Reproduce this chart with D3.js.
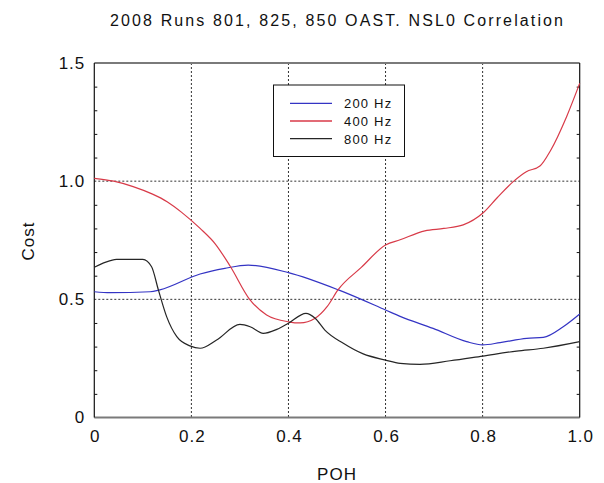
<!DOCTYPE html>
<html>
<head>
<meta charset="utf-8">
<script src="https://cdn.jsdelivr.net/npm/d3@7"></script>
<style>
  html, body { margin: 0; padding: 0; background: #fff; }
  svg { display: block; font-family: "Liberation Sans", Arial, sans-serif; }
</style>
</head>
<body>
<svg id="chart" width="604" height="483"></svg>
<script>
// Cost vs POH for three frequency bands
const seriesNames = ["200 Hz", "400 Hz", "800 Hz"];
const seriesColors = ["#3434c4", "#d83a48", "#262626"];

const poh200 = [0, 0.033, 0.115, 0.135, 0.218, 0.269, 0.317, 0.4, 0.503, 0.6, 0.63, 0.698, 0.767, 0.8, 0.836, 0.891, 0.925, 0.966, 1.0];
const cost200 = [0.532, 0.528, 0.532, 0.54, 0.607, 0.631, 0.645, 0.613, 0.54, 0.455, 0.428, 0.377, 0.321, 0.307, 0.317, 0.335, 0.339, 0.384, 0.438];

const poh400 = [0, 0.04, 0.08, 0.12, 0.15, 0.18, 0.218, 0.249, 0.28, 0.32, 0.355, 0.4, 0.424, 0.455, 0.48, 0.502, 0.55, 0.6, 0.63, 0.681, 0.72, 0.76, 0.8, 0.83, 0.863, 0.89, 0.918, 0.94, 0.973, 1.0];
const cost400 = [1.012, 1.0, 0.977, 0.945, 0.913, 0.868, 0.80, 0.735, 0.64, 0.50, 0.434, 0.405, 0.40, 0.42, 0.47, 0.54, 0.635, 0.73, 0.752, 0.79, 0.80, 0.815, 0.864, 0.93, 0.998, 1.04, 1.064, 1.13, 1.273, 1.414];

const poh800 = [0, 0.033, 0.046, 0.1, 0.118, 0.132, 0.149, 0.17, 0.197, 0.218, 0.252, 0.3, 0.321, 0.348, 0.376, 0.4, 0.436, 0.455, 0.475, 0.513, 0.554, 0.6, 0.63, 0.671, 0.733, 0.8, 0.87, 0.925, 1.0];
const cost800 = [0.636, 0.664, 0.669, 0.669, 0.638, 0.54, 0.427, 0.342, 0.303, 0.293, 0.328, 0.394, 0.384, 0.356, 0.373, 0.399, 0.441, 0.42, 0.37, 0.314, 0.269, 0.243, 0.229, 0.225, 0.24, 0.26, 0.281, 0.293, 0.321];

const xTicks = [0, 0.2, 0.4, 0.6, 0.8, 1.0];
const yTicks = [0, 0.5, 1.0, 1.5];
const yMinorTicks = [0.1, 0.2, 0.3, 0.4, 0.6, 0.7, 0.8, 0.9, 1.1, 1.2, 1.3, 1.4];

const titleText = "2008 Runs 801, 825, 850 OAST. NSL0 Correlation";
const xLabel = "POH";
const yLabel = "Cost";

const series = [
  { name: seriesNames[0], color: seriesColors[0], pts: poh200.map((p, i) => [p, cost200[i]]) },
  { name: seriesNames[1], color: seriesColors[1], pts: poh400.map((p, i) => [p, cost400[i]]) },
  { name: seriesNames[2], color: seriesColors[2], pts: poh800.map((p, i) => [p, cost800[i]]) }
];

const svg = d3.select("#chart");
const plotL = 94.3, plotR = 579.7, plotT = 63, plotB = 417.5;

const x = d3.scaleLinear().domain([0, 1]).range([plotL, plotR]);
const y = d3.scaleLinear().domain([0, 1.5]).range([plotB, plotT]);
const fmt = v => v === 0 ? "0" : d3.format(".1f")(v);

// dotted grid
const grid = svg.append("g").attr("stroke", "#333").attr("stroke-width", 1).attr("stroke-dasharray", "2,2");
xTicks.filter(v => v > 0 && v < 1).forEach(v => {
  grid.append("line").attr("x1", x(v)).attr("x2", x(v)).attr("y1", plotT).attr("y2", plotB);
});
yTicks.filter(v => v > 0 && v < 1.5).forEach(v => {
  grid.append("line").attr("x1", plotL).attr("x2", plotR).attr("y1", y(v)).attr("y2", y(v));
});

// axes
const axL = svg.append("g").attr("transform", `translate(${plotL},0)`)
  .call(d3.axisLeft(y).tickValues(yTicks).tickFormat(fmt).tickSize(0).tickPadding(9));
const axR = svg.append("g").attr("transform", `translate(${plotR},0)`)
  .call(d3.axisRight(y).tickValues(yMinorTicks).tickFormat("").tickSize(-3));
const axLm = svg.append("g").attr("transform", `translate(${plotL},0)`)
  .call(d3.axisLeft(y).tickValues(yMinorTicks).tickFormat("").tickSize(-3));
const axB = svg.append("g").attr("transform", `translate(0,${plotB})`)
  .call(d3.axisBottom(x).tickValues(xTicks).tickFormat(fmt).tickSize(0).tickPadding(12));

[axL, axR, axLm, axB].forEach(g => {
  g.select(".domain").remove();
  g.selectAll(".tick line").attr("stroke", "#111");
  g.selectAll("text").attr("font-size", 17).attr("fill", "#111")
    .attr("font-family", "Liberation Sans, Arial, sans-serif").style("letter-spacing", "1px");
});
axB.selectAll("text").attr("dx", "0.5px");

// frame: grey top/bottom, black sides
svg.append("line").attr("x1", plotL).attr("x2", plotR).attr("y1", plotT).attr("y2", plotT)
  .attr("stroke", "#7a7a7a").attr("stroke-width", 2);
svg.append("line").attr("x1", plotL).attr("x2", plotR).attr("y1", plotB).attr("y2", plotB)
  .attr("stroke", "#7a7a7a").attr("stroke-width", 2);
svg.append("line").attr("x1", plotL).attr("x2", plotL).attr("y1", plotT).attr("y2", plotB)
  .attr("stroke", "#111").attr("stroke-width", 1.2);
svg.append("line").attr("x1", plotR).attr("x2", plotR).attr("y1", plotT).attr("y2", plotB)
  .attr("stroke", "#111").attr("stroke-width", 1.2);

// curves
const line = d3.line().x(d => x(d[0])).y(d => y(d[1])).curve(d3.curveMonotoneX);
svg.append("g").selectAll("path").data(series).join("path")
  .attr("d", d => line(d.pts))
  .attr("fill", "none")
  .attr("stroke", d => d.color)
  .attr("stroke-width", 1.2);

// legend
const lg = svg.append("g");
lg.append("rect").attr("x", 273.5).attr("y", 85).attr("width", 131).attr("height", 71.5)
  .attr("fill", "#fff").attr("stroke", "#111").attr("stroke-width", 1);
series.forEach((s, i) => {
  const yy = 103.3 + i * 17.7;
  lg.append("line").attr("x1", 290).attr("x2", 332).attr("y1", yy).attr("y2", yy)
    .attr("stroke", s.color).attr("stroke-width", i === 1 ? 1.6 : 1.2);
  lg.append("text").attr("x", 344).attr("y", yy + 5).attr("font-size", 13)
    .style("letter-spacing", "1.2px").attr("fill", "#111").text(s.name);
});

// title and axis labels
svg.append("text").attr("x", 110).attr("y", 26).attr("font-size", 16).attr("fill", "#111")
  .attr("textLength", 453).attr("lengthAdjust", "spacing").text(titleText);
svg.append("text").attr("x", 337).attr("y", 480).attr("text-anchor", "middle")
  .attr("font-size", 17).style("letter-spacing", "1px").attr("fill", "#111").text(xLabel);
svg.append("text").attr("transform", "translate(34,241) rotate(-90)").attr("text-anchor", "middle")
  .attr("font-size", 17).style("letter-spacing", "1px").attr("fill", "#111").text(yLabel);
</script>
</body>
</html>
